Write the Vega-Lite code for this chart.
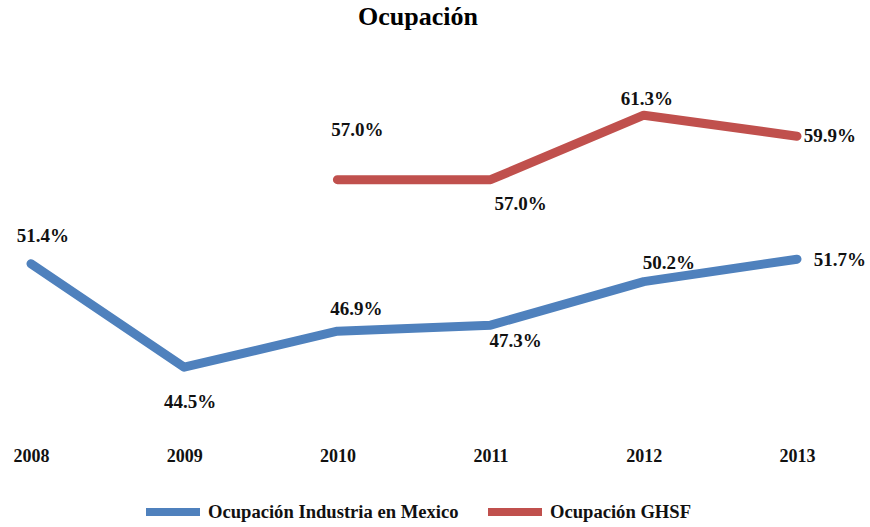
{
  "$schema": "https://vega.github.io/schema/vega-lite/v6.json",
  "width": 870,
  "height": 400,
  "autosize": {"type": "none"},
  "padding": {"left": 0, "top": 45, "right": 0, "bottom": 82},
  "background": "white",
  "title": {
    "text": "Ocupación",
    "font": "Liberation Serif",
    "fontSize": 26,
    "fontWeight": "bold",
    "color": "#000000",
    "anchor": "middle",
    "frame": "group",
    "baseline": "alphabetic",
    "dx": -17,
    "offset": -6
  },
  "config": {
    "view": {"stroke": null},
    "text": {"font": "Liberation Serif", "fontWeight": "bold", "fontSize": 19, "color": "#111111"}
  },
  "data": {
    "values": [
      {"year": 2008, "value": 0.514, "series": "Ocupación Industria en Mexico"},
      {"year": 2009, "value": 0.445, "series": "Ocupación Industria en Mexico"},
      {"year": 2010, "value": 0.469, "series": "Ocupación Industria en Mexico"},
      {"year": 2011, "value": 0.473, "series": "Ocupación Industria en Mexico"},
      {"year": 2012, "value": 0.502, "series": "Ocupación Industria en Mexico"},
      {"year": 2013, "value": 0.517, "series": "Ocupación Industria en Mexico"},
      {"year": 2010, "value": 0.570, "series": "Ocupación GHSF"},
      {"year": 2011, "value": 0.570, "series": "Ocupación GHSF"},
      {"year": 2012, "value": 0.613, "series": "Ocupación GHSF"},
      {"year": 2013, "value": 0.599, "series": "Ocupación GHSF"}
    ]
  },
  "encoding": {
    "x": {
      "field": "year",
      "type": "quantitative",
      "scale": {"domain": [2007.7977, 2013.4765], "nice": false, "zero": false},
      "axis": {
        "values": [2008, 2009, 2010, 2011, 2012, 2013],
        "format": "d",
        "title": null,
        "domain": false,
        "ticks": false,
        "grid": false,
        "labelFont": "Liberation Serif",
        "labelFontWeight": "bold",
        "labelFontSize": 18,
        "labelColor": "#111111",
        "labelPadding": 2,
        "labelFlush": false,
        "labelOverlap": false
      }
    },
    "y": {
      "field": "value",
      "type": "quantitative",
      "scale": {"domain": [0.3931, 0.6598], "nice": false, "zero": false},
      "axis": null
    }
  },
  "layer": [
    {
      "mark": {"type": "line", "strokeWidth": 9, "strokeCap": "round", "strokeJoin": "round"},
      "encoding": {
        "color": {
          "field": "series",
          "type": "nominal",
          "sort": ["Ocupación Industria en Mexico", "Ocupación GHSF"],
          "scale": {"domain": ["Ocupación Industria en Mexico", "Ocupación GHSF"], "range": ["#4F81BD", "#C0504D"]},
          "legend": {
            "title": null,
            "orient": "none",
            "legendX": 142,
            "legendY": 436,
            "direction": "horizontal",
            "symbolType": "stroke",
            "symbolSize": 2916,
            "symbolStrokeWidth": 8,
            "labelFont": "Liberation Serif",
            "labelFontWeight": "bold",
            "labelFontSize": 18.6,
            "labelColor": "#111111",
            "labelOffset": 4,
            "labelLimit": 400,
            "columnPadding": 13,
            "padding": 0
          }
        }
      }
    },
    {"transform": [{"filter": "datum.year == 2008"}], "mark": {"type": "text", "dx": 12, "dy": -27.5}, "encoding": {"text": {"field": "value", "format": ".1%"}}},
    {"transform": [{"filter": "datum.year == 2009"}], "mark": {"type": "text", "dx": 6, "dy": 34.5}, "encoding": {"text": {"field": "value", "format": ".1%"}}},
    {"transform": [{"filter": "datum.year == 2010 && datum.series == 'Ocupación Industria en Mexico'"}], "mark": {"type": "text", "dx": 19, "dy": -22}, "encoding": {"text": {"field": "value", "format": ".1%"}}},
    {"transform": [{"filter": "datum.year == 2011 && datum.series == 'Ocupación Industria en Mexico'"}], "mark": {"type": "text", "dx": 25, "dy": 16}, "encoding": {"text": {"field": "value", "format": ".1%"}}},
    {"transform": [{"filter": "datum.year == 2012 && datum.series == 'Ocupación Industria en Mexico'"}], "mark": {"type": "text", "dx": 25, "dy": -18.5}, "encoding": {"text": {"field": "value", "format": ".1%"}}},
    {"transform": [{"filter": "datum.year == 2013 && datum.series == 'Ocupación Industria en Mexico'"}], "mark": {"type": "text", "dx": 43, "dy": 1}, "encoding": {"text": {"field": "value", "format": ".1%"}}},
    {"transform": [{"filter": "datum.year == 2010 && datum.series == 'Ocupación GHSF'"}], "mark": {"type": "text", "dx": 20, "dy": -50}, "encoding": {"text": {"field": "value", "format": ".1%"}}},
    {"transform": [{"filter": "datum.year == 2011 && datum.series == 'Ocupación GHSF'"}], "mark": {"type": "text", "dx": 30, "dy": 24}, "encoding": {"text": {"field": "value", "format": ".1%"}}},
    {"transform": [{"filter": "datum.year == 2012 && datum.series == 'Ocupación GHSF'"}], "mark": {"type": "text", "dx": 3, "dy": -16.5}, "encoding": {"text": {"field": "value", "format": ".1%"}}},
    {"transform": [{"filter": "datum.year == 2013 && datum.series == 'Ocupación GHSF'"}], "mark": {"type": "text", "dx": 33, "dy": -0.5}, "encoding": {"text": {"field": "value", "format": ".1%"}}}
  ]
}
